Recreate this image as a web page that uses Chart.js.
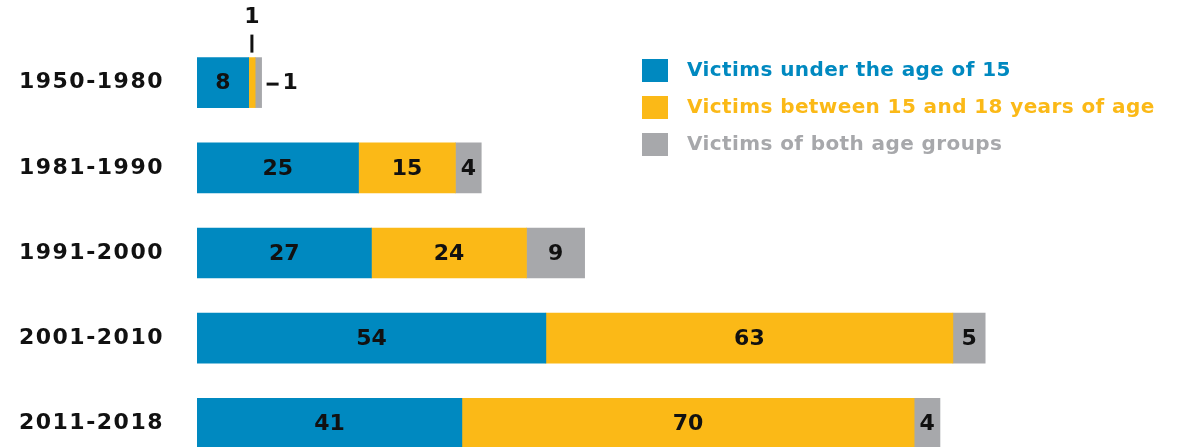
<!DOCTYPE html>
<html>
<head>
<meta charset="utf-8">
<script src="https://cdn.jsdelivr.net/npm/chart.js@4.4.0/dist/chart.umd.min.js"></script>
<style>
html, body { margin: 0; padding: 0; background: #fff; overflow: hidden; }
#wrap { width: 1179px; height: 466px; position: relative; }
</style>
</head>
<body>
<div id="wrap"><canvas id="victimsChart"></canvas></div>
<script>
var periods = ['1950-1980', '1981-1990', '1991-2000', '2001-2010', '2011-2018'];
var under15 = [8, 25, 27, 54, 41];
var between15and18 = [1, 15, 24, 63, 70];
var bothGroups = [1, 4, 9, 5, 4];
var seriesNames = ['Victims under the age of 15', 'Victims between 15 and 18 years of age', 'Victims of both age groups'];
var seriesColors = ['#0089c0', '#fbb917', '#a7a8ab'];

var FONT = "'DejaVu Sans', sans-serif";

// wider tracking for the period labels
var tracking = {
    id: 'tracking',
    beforeDraw: function(chart) { chart.ctx.letterSpacing = '1.5px'; },
    beforeDatasetsDraw: function(chart) { chart.ctx.letterSpacing = '0px'; }
};

// numbers on the bars
var valueLabels = {
    id: 'valueLabels',
    afterDatasetsDraw: function(chart) {
        var ctx = chart.ctx;
        ctx.save();
        ctx.font = 'bold 22px ' + FONT;
        ctx.fillStyle = '#111';
        ctx.textAlign = 'center';
        ctx.textBaseline = 'middle';
        chart.data.datasets.forEach(function(ds, d) {
            chart.getDatasetMeta(d).data.forEach(function(bar, i) {
                if (bar.x - bar.base < 20) return;
                ctx.fillText(ds.data[i], (bar.x + bar.base) / 2, bar.y + 1);
            });
        });
        // first bar: tiny segments get their numbers outside
        var yb = chart.getDatasetMeta(1).data[0];
        var gb = chart.getDatasetMeta(2).data[0];
        var cx = (yb.x + yb.base) / 2;
        ctx.fillRect(cx - 1.5, yb.y - 48, 3, 18);
        ctx.fillText(chart.data.datasets[1].data[0], cx, yb.y - 65);
        ctx.fillRect(gb.x + 5, gb.y, 12, 3);
        ctx.textAlign = 'left';
        ctx.fillText(chart.data.datasets[2].data[0], gb.x + 21, gb.y + 1);
        ctx.restore();
    }
};

// legend in the upper right
var sideLegend = {
    id: 'sideLegend',
    afterDraw: function(chart) {
        var ctx = chart.ctx;
        ctx.save();
        ctx.font = 'bold 20px ' + FONT;
        ctx.letterSpacing = '0.4px';
        ctx.textBaseline = 'middle';
        ctx.textAlign = 'left';
        chart.data.datasets.forEach(function(ds, i) {
            var y = 71 + i * 37;
            ctx.fillStyle = ds.backgroundColor;
            ctx.fillRect(642, y - 12, 26, 23);
            ctx.fillText(ds.label, 687, y);
        });
        ctx.restore();
    }
};

var ctx = document.getElementById('victimsChart');

var chart = new Chart(ctx, {
    type: 'bar',
    data: {
        labels: periods,
        datasets: [
            { label: seriesNames[0], data: under15, backgroundColor: seriesColors[0] },
            { label: seriesNames[1], data: between15and18, backgroundColor: seriesColors[1] },
            { label: seriesNames[2], data: bothGroups, backgroundColor: seriesColors[2] }
        ]
    },
    options: {
        indexAxis: 'y',
        responsive: true,
        maintainAspectRatio: false,
        animation: false,
        datasets: {
            bar: { barThickness: 50, borderWidth: 0 }
        },
        layout: { padding: { top: 40, bottom: 0, left: 0, right: 0 } },
        scales: {
            x: {
                stacked: true,
                display: false,
                min: 0,
                max: 152
            },
            y: {
                stacked: true,
                grid: { display: false },
                border: { display: false },
                ticks: {
                    color: '#111',
                    padding: 25,
                    font: { family: FONT, size: 22, weight: 'bold' }
                },
                afterFit: function(scale) {
                    scale.width = 197;
                    scale.paddingTop = 0;
                    scale.paddingBottom = 0;
                }
            }
        },
        plugins: {
            legend: { display: false },
            tooltip: { enabled: false }
        }
    },
    plugins: [tracking, valueLabels, sideLegend]
});
</script>
</body>
</html>
